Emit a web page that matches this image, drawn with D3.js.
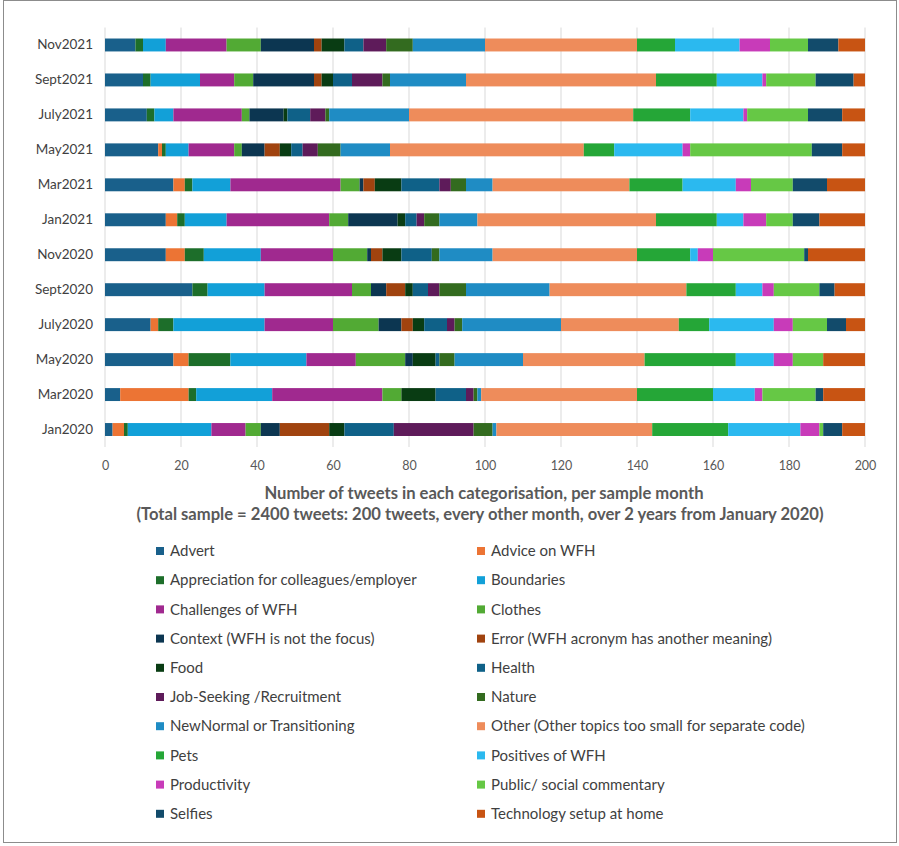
<!DOCTYPE html>
<html>
<head>
<meta charset="utf-8">
<script src="https://cdn.jsdelivr.net/npm/d3@7"></script>
<style>
  html, body { margin: 0; padding: 0; background: #fff; }
  svg { display: block; font-family: "Lato", "Open Sans", sans-serif; }
</style>
</head>
<body>
<svg id="chart" width="899" height="846"></svg>
<script>
// Sample months, oldest first (drawn bottom to top)
const months = ["Jan2020", "Mar2020", "May2020", "July2020", "Sept2020", "Nov2020",
                "Jan2021", "Mar2021", "May2021", "July2021", "Sept2021", "Nov2021"];

// Topic codes, in stacking / legend order
const categories = [
  "Advert", "Advice on WFH", "Appreciation for colleagues/employer", "Boundaries",
  "Challenges of WFH", "Clothes", "Context (WFH is not the focus)",
  "Error (WFH acronym has another meaning)", "Food", "Health",
  "Job-Seeking /Recruitment", "Nature", "NewNormal or Transitioning",
  "Other (Other topics too small for separate code)", "Pets", "Positives of WFH",
  "Productivity", "Public/ social commentary", "Selfies", "Technology setup at home"
];

// Tweets per code, one value per month (same order as months)
const advert        = [2, 4, 18, 12, 23, 16, 16, 18, 14, 11, 10, 8];
const adviceOnWFH   = [3, 18, 4, 2, 0, 5, 3, 3, 1, 0, 0, 0];
const appreciation  = [1, 2, 11, 4, 4, 5, 2, 2, 1, 2, 2, 2];
const boundaries    = [22, 20, 20, 24, 15, 15, 11, 10, 6, 5, 13, 6];
const challenges    = [9, 29, 13, 18, 23, 19, 27, 29, 12, 18, 9, 16];
const clothes       = [4, 5, 13, 12, 5, 9, 5, 5, 2, 2, 5, 9];
const context       = [5, 0, 2, 6, 4, 1, 13, 1, 6, 9, 16, 14];
const errorCode     = [13, 0, 0, 3, 5, 3, 0, 3, 4, 0, 2, 2];
const food          = [4, 9, 6, 3, 2, 5, 2, 7, 3, 1, 3, 6];
const health        = [13, 8, 1, 6, 4, 8, 3, 10, 3, 6, 5, 5];
const jobSeeking    = [21, 2, 0, 2, 3, 0, 2, 3, 4, 4, 8, 6];
const nature        = [5, 1, 4, 2, 7, 2, 4, 4, 6, 1, 2, 7];
const newNormal     = [1, 1, 18, 26, 22, 14, 10, 7, 13, 21, 20, 19];
const other         = [41, 41, 32, 31, 36, 38, 47, 36, 51, 59, 50, 40];
const pets          = [20, 20, 24, 8, 13, 14, 16, 14, 8, 15, 16, 10];
const positives     = [19, 11, 10, 17, 7, 2, 7, 14, 18, 14, 12, 17];
const productivity  = [5, 2, 5, 5, 3, 4, 6, 4, 2, 1, 1, 8];
const publicComment = [1, 14, 8, 9, 12, 24, 7, 11, 32, 16, 13, 10];
const selfies       = [5, 2, 0, 5, 4, 1, 7, 9, 8, 9, 10, 8];
const technology    = [6, 11, 11, 5, 8, 15, 12, 10, 6, 6, 3, 7];

const seriesValues = [advert, adviceOnWFH, appreciation, boundaries, challenges, clothes,
  context, errorCode, food, health, jobSeeking, nature, newNormal, other, pets,
  positives, productivity, publicComment, selfies, technology];

const xTicks = [0, 20, 40, 60, 80, 100, 120, 140, 160, 180, 200];

const colors = ["#19608b", "#ec7434", "#1d6e2a", "#12a0d8", "#a0298f", "#52aa34",
  "#0c3651", "#a0430f", "#093c13", "#0f6188", "#5e1b5a", "#336b1f", "#1f8cc4",
  "#ee8c5b", "#25a637", "#2bb9ef", "#c83bb9", "#66c845", "#124b6b", "#c85413"];

// Build row objects for d3.stack
const rows = months.map((m, i) => {
  const r = { month: m };
  categories.forEach((c, j) => { r[c] = seriesValues[j][i]; });
  return r;
});
const stacked = d3.stack().keys(categories)(rows);

const svg = d3.select("#chart");

// Outer frame
svg.append("rect")
  .attr("x", 3.5).attr("y", 0.5).attr("width", 893).attr("height", 842)
  .attr("fill", "none").attr("stroke", "#8c8c8c").attr("stroke-width", 1);

const plot = { left: 105, right: 865, top: 27.5, bottom: 447 };

const x = d3.scaleLinear().domain([0, 200]).range([plot.left, plot.right]);
const y = d3.scaleBand().domain(months.slice().reverse())
  .range([plot.top, plot.bottom]).paddingInner(0.63).paddingOuter(0.315);

// Vertical gridlines
svg.append("g").selectAll("line").data(xTicks).join("line")
  .attr("x1", d => x(d)).attr("x2", d => x(d))
  .attr("y1", plot.top).attr("y2", plot.bottom)
  .attr("stroke", "#d9d9d9").attr("stroke-width", 1);

// Stacked bars
const colorScale = d3.scaleOrdinal().domain(categories).range(colors);
svg.append("g").selectAll("g").data(stacked).join("g")
  .attr("fill", d => colorScale(d.key))
  .selectAll("rect").data(d => d).join("rect")
  .attr("x", d => x(d[0]))
  .attr("width", d => Math.max(0, x(d[1]) - x(d[0])))
  .attr("y", d => y(d.data.month))
  .attr("height", y.bandwidth());

// Y axis labels
const yAxis = d3.axisLeft(y).tickSize(0).tickPadding(12);
svg.append("g").attr("transform", `translate(${plot.left},0)`).call(yAxis)
  .call(g => g.select(".domain").remove())
  .selectAll("text")
  .attr("font-size", 13.5).attr("fill", "#3f3f3f")
  .style("font-family", "Lato, 'Open Sans', sans-serif");

// X axis labels
const xAxis = d3.axisBottom(x).tickValues(xTicks).tickSize(0).tickPadding(14);
svg.append("g").attr("transform", `translate(0,${plot.bottom})`).call(xAxis)
  .call(g => g.select(".domain").remove())
  .selectAll("text")
  .attr("font-size", 12.5).attr("fill", "#595959")
  .style("font-family", "Lato, 'Open Sans', sans-serif");

// Axis title
const title = svg.append("text")
  .attr("text-anchor", "middle")
  .attr("font-weight", "bold").attr("font-size", 16.6).attr("fill", "#595959");
title.append("tspan").attr("x", 484).attr("y", 499)
  .text("Number of tweets in each categorisation, per sample month");
title.append("tspan").attr("x", 480).attr("y", 520)
  .text("(Total sample = 2400 tweets: 200 tweets, every other month, over 2 years from January 2020)");

// Legend: two columns, row-major
const legend = svg.append("g");
const colX = [156, 477];
const rowY0 = 551, rowStep = 29.2;
const items = legend.selectAll("g").data(categories).join("g")
  .attr("transform", (d, i) => `translate(${colX[i % 2]},${rowY0 + Math.floor(i / 2) * rowStep})`);
items.append("rect")
  .attr("x", 0).attr("y", -4).attr("width", 8).attr("height", 8)
  .attr("fill", d => colorScale(d));
items.append("text")
  .attr("x", 14).attr("y", 0).attr("dy", "0.35em")
  .attr("font-size", 15).attr("fill", "#3f3f3f")
  .text(d => d);
</script>
</body>
</html>
